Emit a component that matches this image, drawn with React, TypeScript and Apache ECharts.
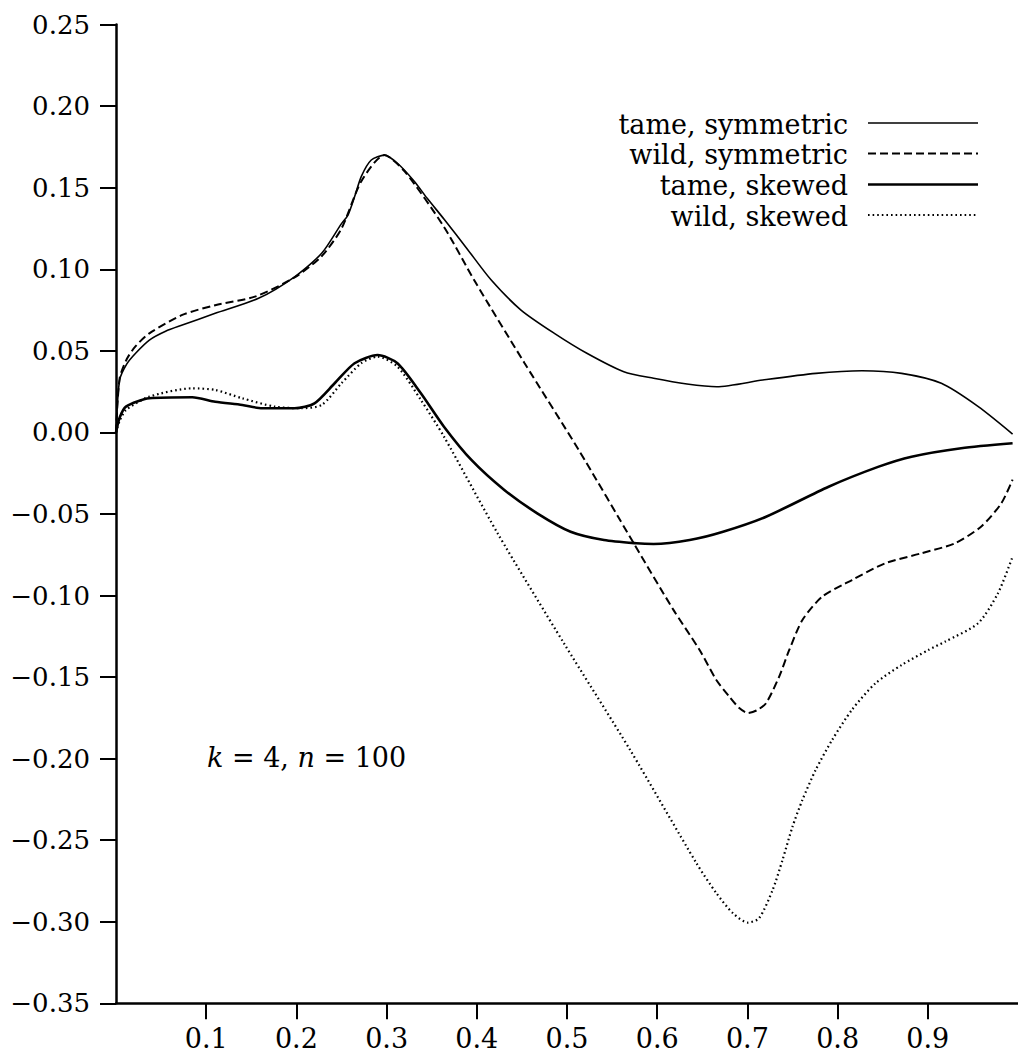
import React, { useEffect, useRef } from "react";
import * as echarts from "echarts";

// ---- data ----
const xTameSym = [0, 0.004, 0.012, 0.022, 0.037, 0.055, 0.0735, 0.11, 0.158, 0.198, 0.228, 0.25, 0.257, 0.2645, 0.272, 0.283, 0.2975, 0.312, 0.3306, 0.345, 0.364, 0.39, 0.416, 0.449, 0.486, 0.522, 0.563, 0.596, 0.633, 0.666, 0.717, 0.776, 0.827, 0.871, 0.915, 0.956, 0.994];
const yTameSym = [0, 0.032, 0.042, 0.0487, 0.0566, 0.062, 0.0658, 0.073, 0.0822, 0.0954, 0.1098, 0.128, 0.133, 0.1445, 0.157, 0.167, 0.170, 0.165, 0.154, 0.1435, 0.1305, 0.112, 0.0934, 0.075, 0.0607, 0.0485, 0.0372, 0.0332, 0.0297, 0.028, 0.0321, 0.0362, 0.0378, 0.0362, 0.0301, 0.0158, -0.001];

const xWildSym = [0, 0.004, 0.012, 0.022, 0.037, 0.0735, 0.11, 0.154, 0.198, 0.228, 0.25, 0.272, 0.2975, 0.32, 0.3636, 0.397, 0.453, 0.513, 0.574, 0.618, 0.647, 0.6656, 0.68, 0.691, 0.7005, 0.71, 0.7207, 0.735, 0.7464, 0.761, 0.783, 0.816, 0.853, 0.893, 0.93, 0.959, 0.9815, 0.994];
const yWildSym = [0, 0.033, 0.045, 0.053, 0.0607, 0.072, 0.078, 0.0832, 0.095, 0.108, 0.125, 0.154, 0.170, 0.160, 0.126, 0.0934, 0.0424, -0.0108, -0.068, -0.1088, -0.1334, -0.1518, -0.162, -0.169, -0.172, -0.1705, -0.166, -0.150, -0.1334, -0.115, -0.1007, -0.0905, -0.0802, -0.0741, -0.068, -0.0578, -0.0435, -0.029];

const xTameSkew = [0, 0.004, 0.011, 0.037, 0.0845, 0.11, 0.14, 0.162, 0.198, 0.22, 0.2424, 0.2645, 0.29, 0.312, 0.338, 0.3636, 0.394, 0.4305, 0.467, 0.504, 0.541, 0.577, 0.596, 0.636, 0.673, 0.7207, 0.79, 0.8456, 0.882, 0.937, 0.994];
const yTameSkew = [0, 0.009, 0.0158, 0.0209, 0.0215, 0.0188, 0.0168, 0.0148, 0.0148, 0.0178, 0.0301, 0.0424, 0.0474, 0.0424, 0.024, 0.0035, -0.0169, -0.0353, -0.0496, -0.0609, -0.066, -0.068, -0.0684, -0.066, -0.0609, -0.0517, -0.0333, -0.021, -0.0149, -0.0097, -0.0067];

const xWildSkew = [0, 0.004, 0.011, 0.037, 0.0845, 0.11, 0.14, 0.176, 0.2057, 0.228, 0.25, 0.272, 0.29, 0.312, 0.338, 0.3636, 0.423, 0.4966, 0.57, 0.6435, 0.6656, 0.684, 0.7005, 0.713, 0.728, 0.739, 0.75, 0.761, 0.7757, 0.794, 0.816, 0.842, 0.871, 0.9006, 0.919, 0.9557, 0.9778, 0.994];
const yWildSkew = [0, 0.007, 0.0137, 0.0219, 0.027, 0.026, 0.0209, 0.0158, 0.0148, 0.0168, 0.0301, 0.0424, 0.0464, 0.0403, 0.0199, -0.0026, -0.0618, -0.1293, -0.1947, -0.2641, -0.2825, -0.2948, -0.3005, -0.2978, -0.2805, -0.262, -0.2417, -0.2253, -0.2069, -0.1885, -0.170, -0.1538, -0.1426, -0.1334, -0.1283, -0.117, -0.0986, -0.0762];

const seriesNames = ["tame, symmetric", "wild, symmetric", "tame, skewed", "wild, skewed"];
const xTicks = [0.1, 0.2, 0.3, 0.4, 0.5, 0.6, 0.7, 0.8, 0.9];
const annotation = "{i|k} = 4, {i|n} = 100";

const FONT = "DejaVu Serif";

const zip = (xs: number[], ys: number[]) => xs.map((x, i) => [x, ys[i]]);

const styles = [
  { width: 1.6, type: "solid" as any },
  { width: 2, type: [8, 4] as any },
  { width: 2.6, type: "solid" as any },
  { width: 2.2, type: [1.6, 3] as any },
];

export default function App() {
  const ref = useRef<HTMLDivElement>(null);
  useEffect(() => {
    if (!ref.current) return;
    const chart = echarts.init(ref.current, null, { renderer: "svg" });
    const data = [zip(xTameSym, yTameSym), zip(xWildSym, yWildSym), zip(xTameSkew, yTameSkew), zip(xWildSkew, yWildSkew)];

    const legendX1 = 868;
    const legendX2 = 978;
    const legendTextX = 848;
    const legendY = [123, 153.5, 184.5, 215];
    const legendGraphics: any[] = [];
    seriesNames.forEach((name, i) => {
      legendGraphics.push({
        type: "text",
        x: legendTextX,
        y: legendY[i] + 1,
        style: {
          text: name,
          fontFamily: FONT,
          fontSize: 27,
          fill: "#000",
          align: "right",
          verticalAlign: "middle",
        },
      });
      legendGraphics.push({
        type: "line",
        shape: { x1: legendX1, y1: legendY[i], x2: legendX2, y2: legendY[i] },
        style: {
          stroke: "#000",
          lineWidth: styles[i].width,
          lineDash: Array.isArray(styles[i].type) ? styles[i].type : null,
        },
      });
    });

    chart.setOption({
      animation: false,
      backgroundColor: "#fff",
      textStyle: { fontFamily: FONT },
      grid: { left: 116, right: -5.5, top: 24.6, bottom: 53.7, containLabel: false },
      xAxis: {
        type: "value",
        min: 0,
        max: 1,
        interval: 0.1,
        axisLine: { onZero: false, lineStyle: { color: "#000", width: 2.5 } },
        axisTick: { show: true, inside: false, length: 16, lineStyle: { color: "#000", width: 2 }, customValues: xTicks },
        axisLabel: {
          color: "#000",
          fontFamily: FONT,
          fontSize: 27,
          margin: 22,
          customValues: xTicks,
          formatter: (v: number) => (v > 0.05 && v < 0.95 ? v.toFixed(1) : ""),
        },
        splitLine: { show: false },
      },
      yAxis: {
        type: "value",
        min: -0.35,
        max: 0.25,
        interval: 0.05,
        axisLine: { show: true, onZero: false, lineStyle: { color: "#000", width: 2.5 } },
        axisTick: { show: true, inside: false, length: 16, lineStyle: { color: "#000", width: 2 } },
        axisLabel: {
          color: "#000",
          fontFamily: FONT,
          fontSize: 26,
          margin: 26,
          formatter: (v: number) => {
            if (Math.abs(v) < 1e-9) return "0.00";
            const s = v.toFixed(2);
            return s.replace("-", "\u2212");
          },
        },
        splitLine: { show: false },
      },
      series: data.map((d, i) => ({
        name: seriesNames[i],
        type: "line",
        data: d,
        showSymbol: false,
        symbol: "none",
        smooth: 0.25,
        lineStyle: { color: "#000", width: styles[i].width, type: styles[i].type },
        z: 2,
      })),
      graphic: [
        ...legendGraphics,
        {
          type: "text",
          x: 207,
          y: 757,
          style: {
            text: annotation,
            fontFamily: FONT,
            fontSize: 27,
            fill: "#000",
            align: "left",
            verticalAlign: "middle",
            rich: {
              i: { fontStyle: "italic", fontFamily: FONT, fontSize: 27, fill: "#000" },
            },
          },
        },
      ],
    });
    return () => chart.dispose();
  }, []);
  return (
    <div
      ref={ref}
      style={{ position: "fixed", left: 0, top: 0, width: 1018, height: 1057, background: "#fff" }}
    />
  );
}
